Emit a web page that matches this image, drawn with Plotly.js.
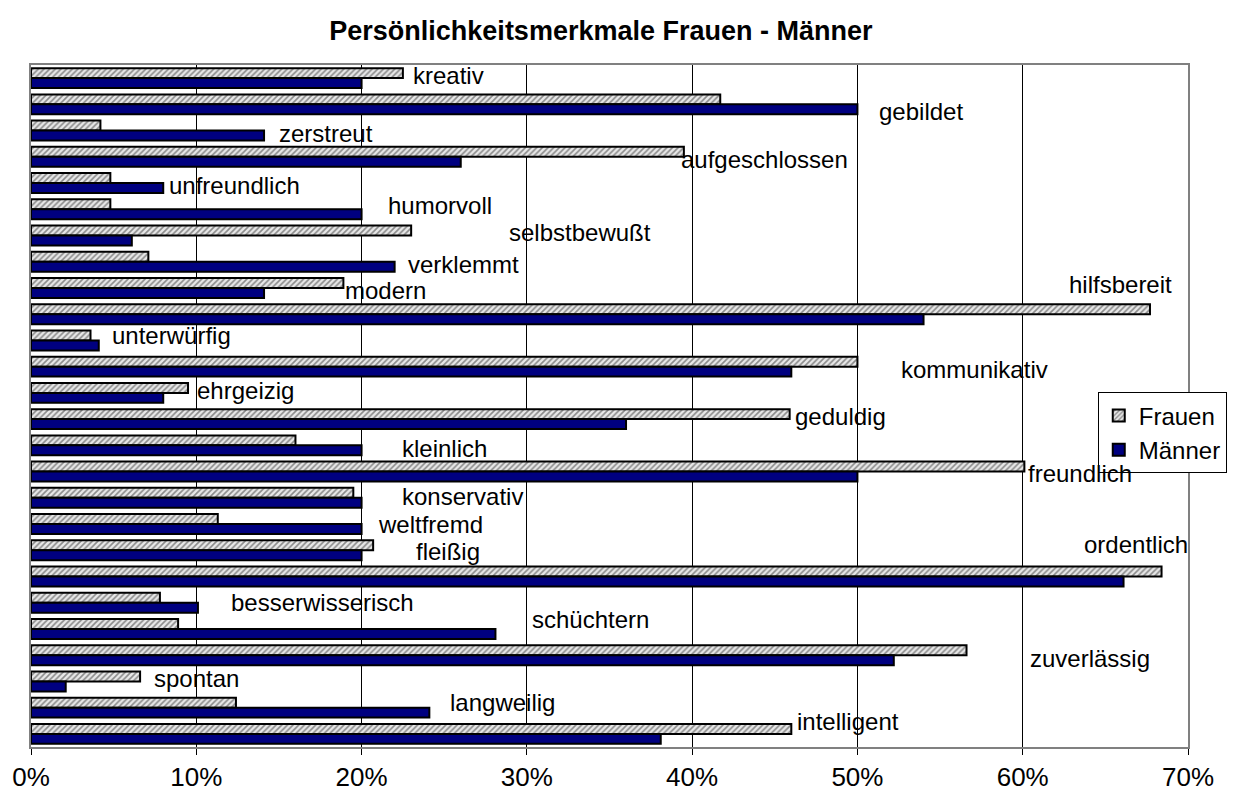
<!DOCTYPE html>
<html>
<head>
<meta charset="utf-8">
<script src="https://cdn.plot.ly/plotly-3.0.1.min.js"></script>
<style>html,body{margin:0;padding:0;background:#fff;}#chart{width:1239px;height:792px;}</style>
</head>
<body>
<div id="chart"></div>
<script>
const categories = ["kreativ","gebildet","zerstreut","aufgeschlossen","unfreundlich","humorvoll","selbstbewußt","verklemmt","modern","hilfsbereit","unterwürfig","kommunikativ","ehrgeizig","geduldig","kleinlich","freundlich","konservativ","weltfremd","fleißig","ordentlich","besserwisserisch","schüchtern","zuverlässig","spontan","langweilig","intelligent"];
const frauen = [22.5,41.7,4.2,39.5,4.8,4.8,23.0,7.1,18.9,67.7,3.6,50.0,9.5,45.9,16.0,60.1,19.5,11.3,20.7,68.4,7.8,8.9,56.6,6.6,12.4,46.0];
const maenner = [20.0,50.0,14.1,26.0,8.0,20.0,6.1,22.0,14.1,54.0,4.1,46.0,8.0,36.0,20.0,50.0,20.0,20.0,20.0,66.1,10.1,28.1,52.2,2.1,24.1,38.1];
const tickVals = [0,10,20,30,40,50,60,70];
const tickText = ["0%","10%","20%","30%","40%","50%","60%","70%"];

// label placement (x in %, y offset in category units)
const labelX = [22.97,51.2,14.9,39.2,8.2,21.5,28.8,22.7,18.9,62.7,4.8,52.5,9.9,46.1,22.3,60.2,22.3,20.9,23.2,63.6,12.0,30.2,60.3,7.3,25.2,46.2];
const labelDy = [-0.11,0.29,0.1,0.12,0.08,-0.13,-0.1,0.12,0.11,-1.15,-0.18,0.12,-0.08,-0.09,0.13,0.08,-0.05,0,0.05,-1.21,0,-0.36,0.13,-0.11,-0.2,-0.48];

const FONT = "Arial, 'Liberation Sans', sans-serif";

const traces = [
  {
    type: "bar", orientation: "h", name: "Frauen",
    y: categories.map((c,i)=>i), x: frauen,
    marker: {color: "#d9d9d9", pattern: {shape: "/", fgcolor: "#8a8a8a", bgcolor: "#e8e8e8", size: 4, solidity: 0.4},
             line: {color: "#000", width: 2}},
    hoverinfo: "x"
  },
  {
    type: "bar", orientation: "h", name: "Männer",
    y: categories.map((c,i)=>i), x: maenner,
    marker: {color: "#000080", line: {color: "#000", width: 2}},
    hoverinfo: "x"
  }
];

const annotations = categories.map((c,i)=>({
  x: labelX[i], y: i + labelDy[i], xref: "x", yref: "y",
  text: c, showarrow: false, xanchor: "left", yanchor: "middle",
  font: {family: FONT, size: 24, color: "#000"}
}));

const layout = {
  width: 1239, height: 792,
  margin: {l: 31, r: 49, t: 65, b: 45},
  paper_bgcolor: "#fff", plot_bgcolor: "#fff",
  title: {text: "<b>Persönlichkeitsmerkmale Frauen - Männer</b>", font: {family: FONT, size: 27, color: "#000"},
          x: 0.485, xanchor: "center", y: 0.962, yref: "container", yanchor: "middle"},
  barmode: "group", bargap: 0.24, bargroupgap: 0,
  xaxis: {range: [0,70], tickvals: tickVals, ticktext: tickText, showgrid: true, gridcolor: "#000", gridwidth: 1,
          ticks: "outside", ticklen: 6, tickcolor: "#000", showline: true, linecolor: "#808080", linewidth: 2, mirror: true,
          tickfont: {family: FONT, size: 26, color: "#000"}, zeroline: false, fixedrange: true},
  yaxis: {range: [categories.length - 0.5, -0.5], showticklabels: false, ticks: "", showgrid: false,
          showline: true, linecolor: "#808080", linewidth: 2, mirror: true, zeroline: false, fixedrange: true},
  legend: {x: 0.922, y: 0.52, xanchor: "left", yanchor: "top", traceorder: "normal",
           bgcolor: "#fff", bordercolor: "#000", borderwidth: 1,
           font: {family: FONT, size: 24, color: "#000"}, itemwidth: 30},
  annotations: annotations,
  showlegend: true
};

Plotly.newPlot("chart", traces, layout, {displayModeBar: false, staticPlot: true});
</script>
</body>
</html>
